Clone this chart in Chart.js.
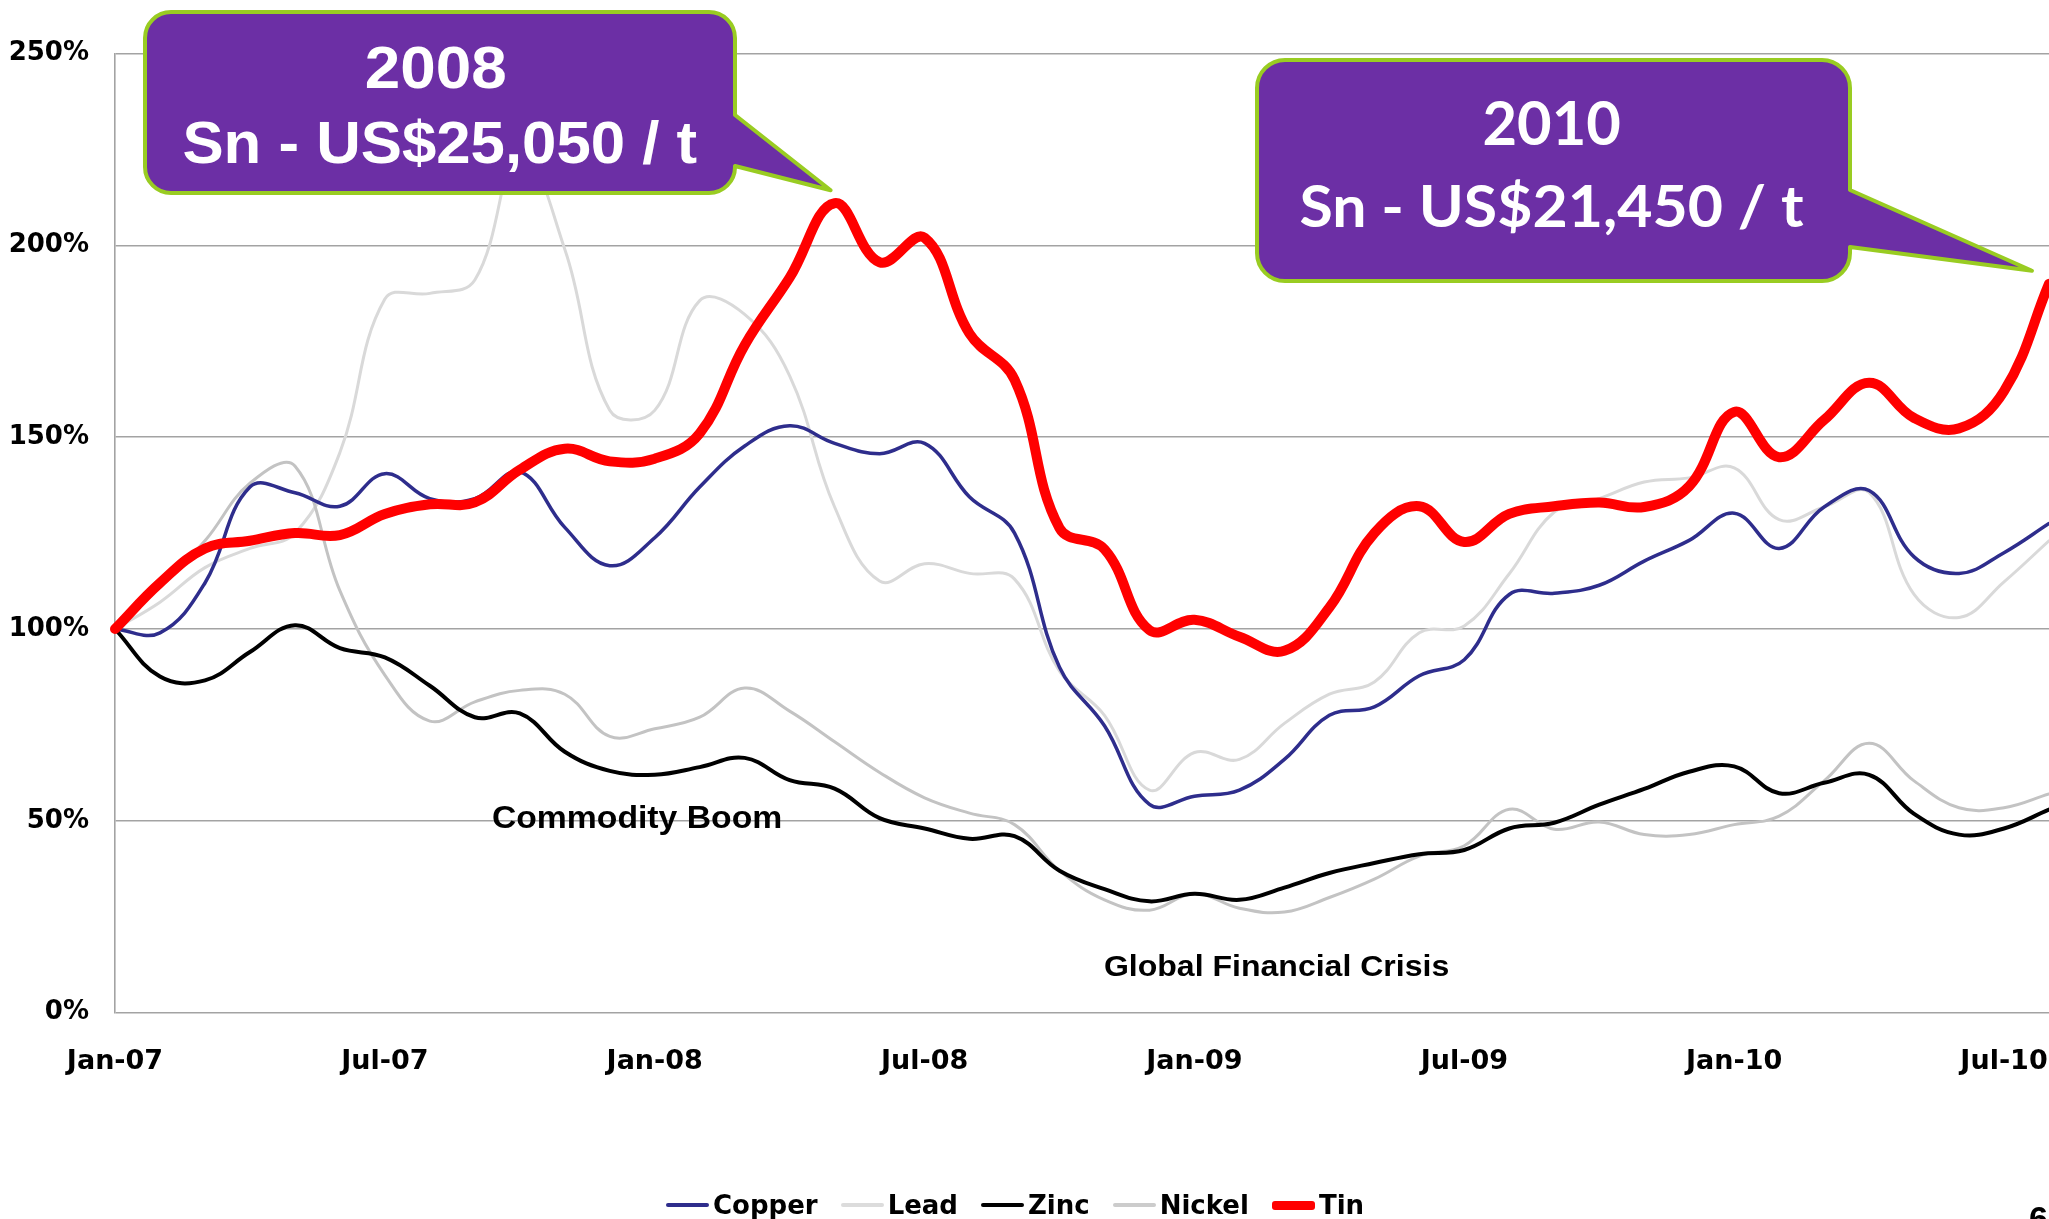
<!DOCTYPE html>
<html>
<head>
<meta charset="utf-8">
<script src="https://cdn.jsdelivr.net/npm/chart.js@4.4.1/dist/chart.umd.min.js"></script>
<style>
html,body{margin:0;padding:0;background:#fff;overflow:hidden;}
#wrap{position:relative;width:2049px;height:1219px;overflow:hidden;}
#legend{position:absolute;left:666px;top:1188px;display:flex;align-items:center;font:bold 26px "DejaVu Sans",Verdana,sans-serif;color:#000;white-space:nowrap;line-height:34px;}
.item{display:flex;align-items:center;margin-right:23px;}
.swatch{width:43px;margin-right:4px;border-radius:3px;}
#pg{position:absolute;left:2029px;top:1199px;font:bold 34px "Liberation Sans",Arial,sans-serif;color:#000;}
</style>
</head>
<body>
<div id="wrap">
<canvas id="c" width="2049" height="1219"></canvas>
<div id="legend"></div>
<div id="pg">6</div>
</div>
<script>
// ---- data (index relative to Jan-07 = 100%) ----
const months = ['Jan-07','Feb-07','Mar-07','Apr-07','May-07','Jun-07','Jul-07','Aug-07','Sep-07','Oct-07','Nov-07','Dec-07',
  'Jan-08','Feb-08','Mar-08','Apr-08','May-08','Jun-08','Jul-08','Aug-08','Sep-08','Oct-08','Nov-08','Dec-08',
  'Jan-09','Feb-09','Mar-09','Apr-09','May-09','Jun-09','Jul-09','Aug-09','Sep-09','Oct-09','Nov-09','Dec-09',
  'Jan-10','Feb-10','Mar-10','Apr-10','May-10','Jun-10','Jul-10','Aug-10'];

const copper = [100,99,112,137,135.5,132,140.5,134,134,141,126.5,116.5,
  123.8,137,147.7,153,148.4,145.7,148.4,134.4,125,90,74.8,54.3,
  56.4,58,66,77.5,79.7,87.8,92,109,109.3,111.4,117.7,123.1,
  130.2,121,131.8,136.1,118.8,114.5,119.9,127.5];

const lead = [100,107,116,121,125,146,186,187.5,191,225,199,157,
  157,185.6,182,166,131.8,112.5,117,114.5,113,89,77.5,58,
  67.8,66,75.4,83,86.2,99,100.8,114.4,130.5,134,138.3,139.4,
  142,128.5,131.8,135.6,109,103,112.3,123];

const zinc = [100,87.6,86.6,94,101,95,92.6,85.2,77,78,68,63,
  62,64,66.4,60.6,58.4,50.7,48,45.3,46,37,32.2,29,
  31,29.4,32.6,36.4,39,41.3,42.4,48,49.5,54.2,58.3,62.8,
  64.2,57.2,59.9,62,51.8,46.4,48,52.9];

const nickel = [100,111,123,138,142.5,110,88,76,81,84,83,72,
  74,77,84.6,78.6,70.6,62.6,56,52,49,37,29.4,26.7,
  31,27.2,26.2,30,34.8,40.8,43.5,53,47.8,49.7,46.4,46.4,
  49,51.2,60.4,70.2,60.4,53.4,53.4,57];

const tin = [100,112,121,123,125,124.5,130,132.5,133,141.5,147,143.7,
  144.4,151,174,191.6,211,195.6,202,177,165,126.3,120.8,99.7,
  102.4,98,94.3,105.6,125,132,122.7,130,132,133,131.8,137.2,
  156.6,144.8,154.5,164.2,155,152.3,162,190];

const seriesNames = ['Copper','Lead','Zinc','Nickel','Tin'];
const yTicks = [0,50,100,150,200,250];

const callout1 = ['2008','Sn - US$25,050 / t'];
const callout2 = ['2010','Sn - US$21,450 / t'];
const notes = ['Commodity Boom','Global Financial Crisis'];

// ---- styles ----
const styles = {
  Copper:{color:'#2e2d8c', width:3.5, order:2, sw:4},
  Lead:{color:'#d9d9d9', width:3, order:4, sw:4},
  Zinc:{color:'#000000', width:4, order:1, sw:4},
  Nickel:{color:'#c3c3c3', width:3, order:3, sw:4},
  Tin:{color:'#ff0000', width:10, order:0, sw:9}
};
const values = {Copper:copper, Lead:lead, Zinc:zinc, Nickel:nickel, Tin:tin};

function fitText(ctx, text, cx, baseline, size, family, targetW){
  ctx.save();
  ctx.font = 'bold ' + size + 'px ' + family;
  ctx.textAlign = 'left';
  ctx.textBaseline = 'alphabetic';
  const m = ctx.measureText(text);
  const ink = m.actualBoundingBoxLeft + m.actualBoundingBoxRight;
  const s = targetW / ink;
  const c = (m.actualBoundingBoxRight - m.actualBoundingBoxLeft) / 2;
  ctx.translate(cx, baseline);
  ctx.scale(s, 1);
  ctx.fillText(text, -c, 0);
  ctx.restore();
}

function bubble(ctx, x, y, w, h, r, t1, tip, t2){
  ctx.beginPath();
  ctx.moveTo(x + r, y);
  ctx.lineTo(x + w - r, y);
  ctx.arcTo(x + w, y, x + w, y + r, r);
  ctx.lineTo(x + w, t1);
  ctx.lineTo(tip[0], tip[1]);
  ctx.lineTo(x + w, t2);
  ctx.lineTo(x + w, y + h - r);
  ctx.arcTo(x + w, y + h, x + w - r, y + h, r);
  ctx.lineTo(x + r, y + h);
  ctx.arcTo(x, y + h, x, y + h - r, r);
  ctx.lineTo(x, y + r);
  ctx.arcTo(x, y, x + r, y, r);
  ctx.closePath();
  ctx.fillStyle = '#6c2fa5';
  ctx.fill();
  ctx.lineWidth = 4;
  ctx.lineJoin = 'round';
  ctx.strokeStyle = '#99cc22';
  ctx.stroke();
}

const annotations = {
  id:'annotations',
  afterDraw(chart){
    const ctx = chart.ctx;
    const xs = chart.scales.x, ys = chart.scales.y;
    ctx.save();
    ctx.fillStyle = '#000';
    fitText(ctx, notes[0], 637, 827.5, 30.5, '"Liberation Sans", Arial, sans-serif', 288);
    fitText(ctx, notes[1], 1276.5, 976, 29, '"Liberation Sans", Arial, sans-serif', 343);

    // callout 1 pointing at the 2008 tin peak
    const pk = tin.indexOf(Math.max.apply(null, tin.slice(0, 24)));
    const tip1 = [xs.getPixelForValue(pk) - 4, ys.getPixelForValue(tin[pk]) - 13];
    bubble(ctx, 145, 12, 590, 181, 26, 115, tip1, 166);
    ctx.fillStyle = '#ffffff';
    fitText(ctx, callout1[0], 436, 88, 58.6, '"Liberation Sans", Arial, sans-serif', 138);
    fitText(ctx, callout1[1], 440, 163, 58.6, '"Liberation Sans", Arial, sans-serif', 513);

    // callout 2 pointing at the latest tin value
    const li = tin.length - 1;
    const tip2 = [xs.getPixelForValue(li) - 17, ys.getPixelForValue(tin[li]) - 13];
    bubble(ctx, 1257, 60, 593, 221, 28, 190, tip2, 247);
    ctx.fillStyle = '#ffffff';
    fitText(ctx, callout2[0], 1552, 145, 61, 'Lato, "Open Sans", sans-serif', 135);
    fitText(ctx, callout2[1], 1552, 226.7, 56.5, 'Lato, "Open Sans", sans-serif', 503);
    ctx.restore();
  }
};

const datasets = seriesNames.map(n => ({
  label:n,
  data:values[n],
  borderColor:styles[n].color,
  backgroundColor:styles[n].color,
  borderWidth:styles[n].width,
  order:styles[n].order,
  pointRadius:0,
  pointHoverRadius:0,
  tension:0.4,
  borderCapStyle:'round',
  borderJoinStyle:'round',
  fill:false
}));

new Chart(document.getElementById('c'), {
  type:'line',
  data:{labels:months, datasets:datasets},
  options:{
    responsive:false,
    animation:false,
    events:[],
    layout:{padding:{top:53.6,right:0,bottom:0,left:0}, autoPadding:false},
    plugins:{legend:{display:false}, tooltip:{enabled:false}},
    scales:{
      x:{
        type:'category',
        grid:{display:false, drawTicks:false},
        border:{display:false},
        ticks:{
          autoSkip:false, maxRotation:0, minRotation:0, padding:33,
          color:'#000',
          font:{family:'"DejaVu Sans", Verdana, sans-serif', size:27, weight:'bold'},
          callback:function(v, i){ const l = months[i]; return (l.startsWith('Jan') || l.startsWith('Jul')) && i < months.length - 1 ? l : ''; }
        },
        afterFit:function(s){ s.height = 1219 - 1012.6; s.paddingLeft = 0; s.paddingRight = 0; }
      },
      y:{
        min:0, max:250,
        afterBuildTicks:function(s){ s.ticks = yTicks.map(v => ({value:v})); },
        grid:{color:'#a3a3a3', lineWidth:1.6, drawTicks:false},
        border:{display:true, color:'#a3a3a3', width:1.6},
        ticks:{
          padding:26, color:'#000',
          font:{family:'"DejaVu Sans", Verdana, sans-serif', size:26, weight:'bold'},
          callback:v => v + '%'
        },
        afterFit:function(s){ s.width = 115; }
      }
    }
  },
  plugins:[annotations]
});

// legend built from the series names and styles
const lg = document.getElementById('legend');
seriesNames.forEach(n => {
  const it = document.createElement('div'); it.className = 'item';
  const sw = document.createElement('div'); sw.className = 'swatch';
  sw.style.height = styles[n].sw + 'px';
  sw.style.background = n === 'Lead' ? '#dcdcdc' : (n === 'Nickel' ? '#cccccc' : styles[n].color);
  const tx = document.createElement('span'); tx.textContent = n;
  it.appendChild(sw); it.appendChild(tx); lg.appendChild(it);
});
</script>
</body>
</html>
